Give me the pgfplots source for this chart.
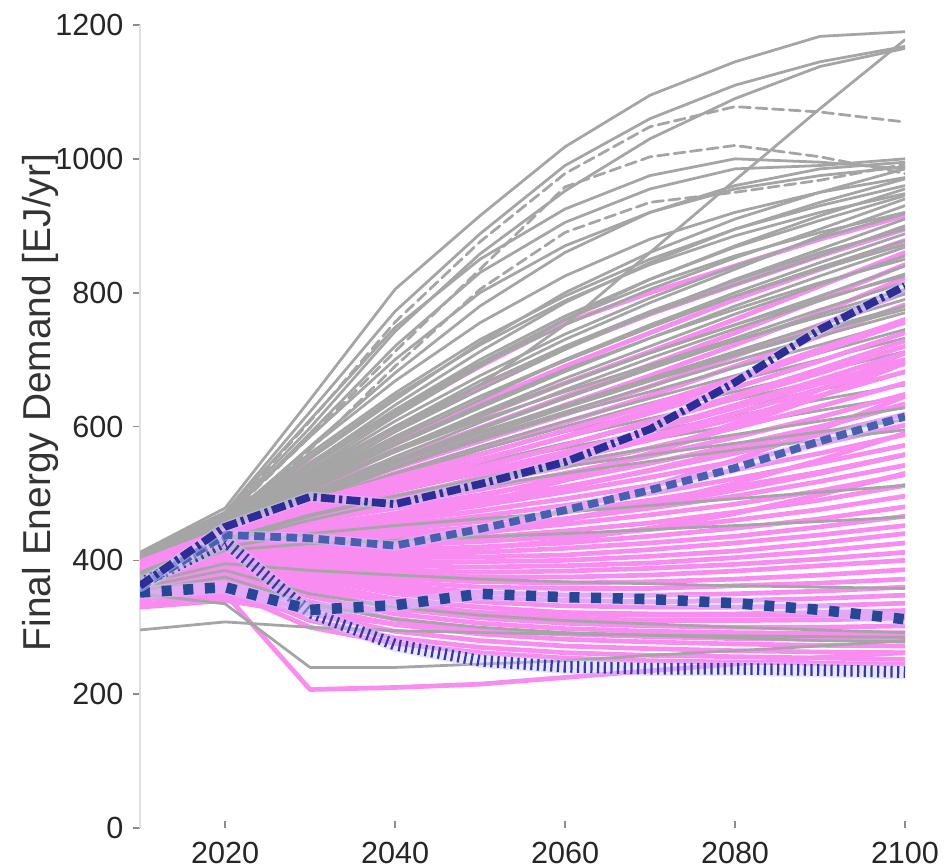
\documentclass[border=0pt]{standalone}
\usepackage{fontspec}
\setmainfont{Liberation Sans}
\usepackage{pgfplots}
\pgfplotsset{compat=1.18}
\definecolor{gl}{RGB}{165,165,165}
\definecolor{pk}{RGB}{248,140,240}
\definecolor{b1}{RGB}{45,45,150}
\definecolor{b2}{RGB}{75,95,175}
\definecolor{b3}{RGB}{40,70,150}
\definecolor{b4}{RGB}{55,55,165}
\definecolor{halo}{RGB}{205,200,255}
% one series = ten values, for 2010, 2020, ..., 2100
\newcommand\Ser[2]{\addplot[#1] table[x expr=2010+10*\coordindex, y index=0, header=false, row sep=\\]{#2\\};}
\newcommand\G[1]{\Ser{gls}{#1}}
\newcommand\Gd[1]{\Ser{gls,dash pattern=on 4pt off 2pt}{#1}}
\newcommand\Pk[1]{\Ser{pks}{#1}}
\begin{document}
\begin{tikzpicture}
\begin{axis}[
  scale only axis, width=275.3pt, height=289pt,
  xmin=2010, xmax=2100, ymin=0, ymax=1200,
  axis lines*=left,
  x axis line style={draw=none},
  y axis line style={draw=black!12, line width=0.6pt},
  xtick={2020,2040,2060,2080,2100},
  ytick={0,200,400,600,800,1000,1200},
  ytick align=outside, xtick align=inside,
  major tick length=2.5pt,
  tick style={black!45, line width=0.6pt},
  /pgf/number format/assume math mode=true,
  /pgf/number format/1000 sep={},
  ticklabel style={font=\fontsize{11}{13}\selectfont, text=black!85},
  xticklabel style={yshift=-1.5pt},
  ylabel={Final Energy Demand [EJ/yr]},
  every axis y label/.style={at={(axis description cs:0,0.53)}, xshift=-36pt, rotate=90, anchor=center, font=\fontsize{14}{16}\selectfont, text=black!80},
  gls/.style={gl, line width=1pt},
  pks/.style={pk, line width=1.7pt},
  every axis plot/.append style={line join=round, line cap=round},
  clip=true,
]
% ---- high pink scenarios (mostly under the grey) ----
\Pk{410\\470\\545\\620\\690\\755\\800\\840\\880\\915}
\Pk{405\\462\\530\\598\\660\\718\\768\\812\\855\\895}
\Pk{400\\458\\520\\580\\636\\690\\740\\790\\835\\878}
\Pk{402\\455\\512\\565\\615\\665\\712\\760\\810\\860}
\Pk{398\\452\\505\\552\\598\\645\\692\\740\\790\\842}
\Pk{395\\450\\500\\545\\588\\632\\676\\722\\770\\822}
\Pk{400\\452\\498\\538\\578\\618\\660\\705\\752\\800}
\Pk{396\\448\\492\\530\\568\\606\\646\\690\\735\\782}
% ---- grey scenarios ----
\G{412\\478\\640\\805\\915\\1018\\1095\\1145\\1183\\1190}
\G{410\\472\\622\\772\\888\\990\\1060\\1110\\1145\\1168}
\G{406\\466\\598\\742\\858\\952\\1030\\1090\\1138\\1165}
\G{400\\452\\520\\592\\662\\752\\860\\968\\1075\\1178}
\Gd{405\\466\\608\\756\\876\\978\\1048\\1078\\1070\\1055}
\Gd{402\\462\\585\\712\\835\\958\\1003\\1020\\1003\\978}
\Gd{400\\456\\565\\690\\805\\890\\935\\950\\968\\992}
\G{404\\462\\590\\720\\830\\905\\955\\985\\990\\1000}
\G{408\\470\\610\\748\\850\\925\\975\\1000\\995\\985}
\G{400\\458\\570\\680\\780\\860\\920\\960\\985\\995}
\G{404\\465\\585\\700\\800\\870\\920\\955\\975\\988}
\G{398\\455\\552\\640\\725\\800\\860\\910\\950\\985}
\G{400\\460\\568\\668\\755\\825\\880\\920\\950\\972}
\G{396\\452\\545\\632\\712\\785\\845\\895\\935\\970}
\G{402\\460\\560\\650\\730\\795\\850\\895\\930\\960}
\G{398\\456\\555\\645\\722\\788\\842\\885\\920\\948}
\G{395\\450\\535\\615\\690\\760\\820\\870\\915\\955}
\G{396\\452\\540\\625\\700\\765\\820\\868\\908\\945}
\G{398\\452\\540\\620\\692\\752\\805\\852\\895\\940}
\G{394\\448\\528\\600\\668\\730\\785\\835\\885\\930}
\G{400\\455\\545\\625\\695\\760\\812\\855\\890\\920}
\G{394\\450\\532\\608\\676\\738\\792\\840\\882\\918}
\G{392\\446\\522\\592\\655\\715\\770\\820\\865\\910}
\G{396\\450\\530\\600\\662\\718\\768\\812\\855\\900}
\G{392\\448\\525\\598\\662\\720\\772\\818\\860\\895}
\G{390\\444\\515\\580\\640\\700\\752\\800\\845\\888}
\G{394\\448\\520\\585\\645\\698\\748\\795\\838\\878}
\G{390\\446\\518\\585\\645\\700\\750\\795\\835\\872}
\G{392\\446\\512\\572\\628\\682\\732\\780\\825\\868}
\G{388\\442\\505\\565\\620\\672\\720\\768\\812\\855}
\G{388\\444\\512\\575\\632\\685\\732\\775\\815\\850}
\G{390\\444\\508\\566\\618\\665\\710\\752\\795\\840}
\G{386\\440\\500\\555\\606\\655\\702\\746\\788\\828}
\G{386\\442\\505\\562\\615\\664\\710\\752\\790\\825}
\G{392\\446\\510\\562\\610\\652\\692\\732\\775\\815}
\G{388\\442\\498\\548\\596\\642\\686\\728\\768\\805}
\G{384\\440\\498\\550\\598\\644\\688\\728\\764\\798}
\G{386\\440\\495\\545\\590\\632\\672\\712\\752\\790}
\G{390\\444\\500\\548\\592\\632\\670\\708\\745\\780}
\G{382\\438\\492\\540\\585\\628\\668\\706\\742\\775}
\G{384\\438\\490\\538\\582\\622\\660\\698\\735\\770}
\G{388\\442\\495\\540\\580\\618\\652\\688\\722\\758}
\G{386\\440\\488\\530\\570\\608\\642\\676\\710\\745}
\G{382\\436\\484\\526\\565\\600\\635\\668\\700\\732}
\G{386\\440\\486\\525\\560\\592\\622\\652\\682\\712}
\G{384\\438\\480\\518\\552\\584\\612\\640\\668\\695}
\G{380\\434\\476\\512\\545\\575\\602\\628\\655\\680}
\G{384\\436\\478\\512\\542\\568\\592\\616\\640\\662}
\G{380\\432\\470\\502\\530\\556\\580\\602\\624\\645}
% ---- pink scenarios ----
\Pk{392\\445\\488\\524\\558\\594\\632\\672\\716\\760}
\Pk{375\\428\\474\\512\\548\\585\\625\\668\\712\\756}
\Pk{398\\446\\485\\518\\550\\584\\620\\658\\698\\740}
\Pk{372\\425\\470\\505\\538\\572\\608\\646\\686\\728}
\Pk{394\\442\\480\\510\\540\\572\\606\\642\\680\\720}
\Pk{365\\415\\455\\490\\525\\560\\595\\632\\670\\710}
\Pk{350\\400\\430\\455\\485\\520\\560\\605\\655\\710}
\Pk{390\\440\\476\\504\\532\\562\\594\\628\\664\\700}
\Pk{360\\410\\445\\470\\495\\525\\560\\600\\645\\695}
\Pk{368\\420\\462\\494\\522\\552\\585\\620\\656\\694}
\Pk{392\\438\\470\\496\\522\\550\\580\\612\\646\\682}
\Pk{388\\436\\466\\490\\515\\540\\568\\598\\630\\665}
\Pk{390\\434\\462\\484\\506\\530\\556\\584\\614\\648}
\Pk{340\\380\\400\\420\\445\\475\\510\\550\\595\\645}
\Pk{362\\408\\440\\462\\484\\508\\535\\565\\598\\634}
\Pk{386\\432\\458\\478\\498\\520\\545\\572\\600\\632}
\Pk{388\\430\\452\\470\\490\\510\\534\\560\\588\\618}
\Pk{384\\428\\448\\464\\482\\502\\524\\548\\574\\602}
\Pk{345\\390\\410\\425\\440\\460\\485\\515\\550\\590}
\Pk{386\\426\\444\\458\\474\\492\\512\\535\\560\\588}
\Pk{382\\424\\440\\452\\466\\482\\500\\522\\546\\572}
\Pk{358\\400\\420\\432\\446\\462\\482\\505\\530\\558}
\Pk{384\\422\\436\\446\\458\\472\\490\\510\\532\\558}
\Pk{380\\420\\432\\440\\450\\462\\478\\496\\518\\542}
\Pk{355\\395\\405\\410\\418\\430\\448\\470\\498\\530}
\Pk{382\\418\\428\\434\\442\\454\\468\\484\\504\\528}
\Pk{378\\416\\424\\428\\434\\444\\456\\472\\490\\512}
\Pk{380\\414\\420\\422\\428\\436\\446\\460\\476\\496}
\Pk{376\\412\\416\\416\\420\\426\\436\\448\\462\\480}
\Pk{378\\410\\412\\410\\412\\418\\426\\436\\450\\466}
\Pk{374\\408\\408\\404\\405\\408\\416\\426\\438\\452}
\Pk{376\\406\\404\\398\\398\\400\\406\\414\\426\\440}
\Pk{372\\404\\400\\392\\390\\392\\396\\404\\414\\426}
\Pk{374\\402\\396\\386\\382\\384\\388\\394\\402\\412}
\Pk{370\\400\\392\\380\\375\\375\\378\\384\\392\\400}
\Pk{372\\398\\388\\374\\368\\366\\368\\372\\378\\386}
\Pk{368\\396\\384\\368\\360\\358\\358\\362\\366\\372}
\Pk{370\\394\\380\\362\\352\\348\\348\\350\\354\\360}
\Pk{366\\392\\376\\356\\345\\340\\338\\340\\343\\348}
\Pk{368\\390\\372\\350\\338\\332\\330\\330\\332\\336}
\Pk{364\\388\\366\\342\\330\\322\\320\\320\\322\\325}
\Pk{366\\386\\360\\336\\322\\314\\310\\310\\311\\314}
\Pk{362\\384\\354\\328\\314\\306\\302\\300\\300\\302}
\Pk{360\\380\\346\\320\\306\\298\\294\\292\\291\\292}
\Pk{358\\376\\338\\312\\298\\290\\286\\283\\282\\282}
\Pk{356\\372\\330\\304\\290\\282\\278\\275\\273\\272}
\Pk{352\\368\\320\\294\\280\\272\\268\\265\\263\\262}
\Pk{348\\362\\310\\284\\270\\262\\258\\256\\254\\252}
\Pk{345\\355\\300\\276\\262\\254\\250\\248\\246\\245}
\Pk{342\\350\\207\\210\\215\\225\\235\\245\\255\\262}
\Pk{335\\345\\330\\325\\322\\320\\318\\318\\318\\320}
\Pk{330\\340\\320\\305\\295\\290\\288\\286\\285\\285}
% ---- grey scenarios drawn over the pink ones ----
\G{378\\430\\466\\496\\522\\546\\568\\588\\608\\628}
\G{382\\432\\468\\496\\520\\540\\558\\575\\592\\610}
\G{376\\428\\460\\488\\510\\530\\548\\565\\580\\595}
\G{372\\420\\440\\452\\462\\472\\482\\492\\502\\512}
\G{370\\415\\425\\430\\435\\440\\446\\452\\458\\465}
\G{365\\395\\385\\378\\372\\368\\365\\362\\360\\358}
\G{360\\385\\350\\330\\318\\310\\305\\300\\296\\292}
\G{355\\375\\335\\312\\300\\292\\288\\284\\280\\278}
\G{350\\335\\240\\240\\245\\250\\258\\265\\272\\280}
\G{296\\308\\300\\295\\292\\290\\288\\287\\286\\285}
% ---- blue marker pathways (light halo, then the line) ----
\Ser{halo, opacity=0.45, line width=5.2pt}{365\\428\\322\\274\\250\\241\\238\\238\\236\\233}
\Ser{b4, line width=4.2pt, dash pattern=on 0.8pt off 1.6pt, line cap=butt}{365\\428\\322\\274\\250\\241\\238\\238\\236\\233}
\Ser{halo, opacity=0.45, line width=4.8pt}{352\\360\\326\\333\\350\\345\\342\\336\\326\\312}
\Ser{b3, line width=3.8pt, dash pattern=on 3.6pt off 4.2pt, line cap=butt}{352\\360\\326\\333\\350\\345\\342\\336\\326\\312}
\Ser{halo, opacity=0.45, line width=3.8pt}{360\\438\\433\\422\\447\\475\\505\\538\\578\\615}
\Ser{b2, line width=2.8pt, dash pattern=on 3.8pt off 2pt, line cap=butt}{360\\438\\433\\422\\447\\475\\505\\538\\578\\615}
\Ser{halo, opacity=0.45, line width=3.8pt}{362\\450\\495\\484\\514\\547\\596\\666\\745\\810}
\Ser{b1, line width=2.8pt, dash pattern=on 5pt off 1.5pt on 1.2pt off 1.5pt, line cap=butt}{362\\450\\495\\484\\514\\547\\596\\666\\745\\810}
\end{axis}
\pgfresetboundingbox
\path[use as bounding box] ([shift={(-50.4pt,-14pt)}]current axis.south west) rectangle ([shift={(14.4pt,9pt)}]current axis.north east);
\end{tikzpicture}
\end{document}
